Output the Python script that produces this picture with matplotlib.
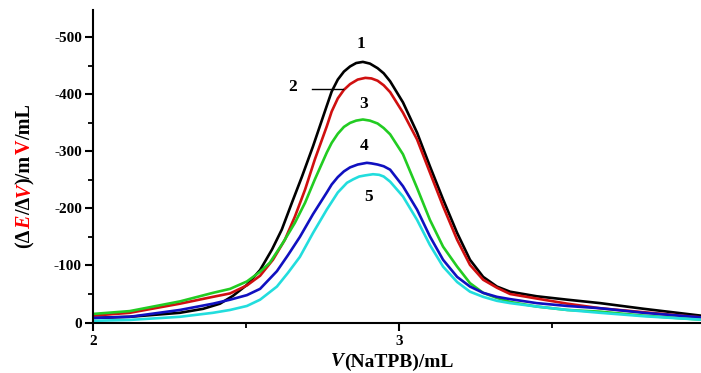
import matplotlib
matplotlib.use('Agg')
import matplotlib.pyplot as plt
from matplotlib.ticker import MultipleLocator, FuncFormatter

plt.rcParams['font.family'] = ['Liberation Serif', 'DejaVu Serif']
plt.rcParams['font.weight'] = 'bold'

# curves (volume in mL, value shown as -dE/dV)
x1 = [2.00, 2.12, 2.284, 2.36, 2.415, 2.458, 2.503, 2.546, 2.585, 2.617, 2.650, 2.683, 2.719, 2.764, 2.78,
      2.80, 2.82, 2.84, 2.86, 2.882, 2.905, 2.93, 2.95, 2.971, 3.013, 3.059, 3.101, 3.144, 3.19, 3.232,
      3.275, 3.32, 3.363, 3.45, 3.55, 3.657, 3.80, 3.987]
y1 = [8, 10, 17, 24, 33, 47, 66, 92, 128, 163, 210, 256, 309, 380, 405,
      426, 440, 449, 455, 457, 454, 446, 437, 423, 386, 333, 274, 216, 157, 110,
      80, 63, 54, 46, 40, 34, 24, 12]

x2 = [2.00, 2.12, 2.284, 2.392, 2.448, 2.503, 2.546, 2.588, 2.627, 2.66, 2.693, 2.725, 2.764, 2.78, 2.80,
      2.82, 2.84, 2.865, 2.89, 2.91, 2.93, 2.95, 2.971, 3.013, 3.059, 3.101, 3.144, 3.19, 3.232, 3.275,
      3.32, 3.363, 3.45, 3.55, 3.657, 3.80, 3.987]
y2 = [12, 17, 33, 45, 51, 65, 82, 110, 145, 186, 233, 286, 344, 370, 393,
      408, 418, 426, 429, 428, 424, 416, 404, 368, 321, 263, 204, 145, 101, 75,
      61, 50, 42, 33, 25, 18, 9]

x3 = [2.00, 2.12, 2.284, 2.392, 2.448, 2.503, 2.546, 2.578, 2.621, 2.66, 2.693, 2.725, 2.764, 2.78, 2.80,
      2.82, 2.84, 2.86, 2.882, 2.905, 2.93, 2.95, 2.971, 3.013, 3.059, 3.101, 3.144, 3.19, 3.232, 3.275,
      3.32, 3.363, 3.45, 3.55, 3.657, 3.80, 3.987]
y3 = [15, 20, 37, 52, 59, 72, 89, 105, 140, 175, 210, 251, 298, 315, 331,
      343, 350, 354, 356, 354, 349, 341, 330, 295, 236, 180, 133, 98, 69, 52,
      43, 36, 28, 22, 19, 12, 5]

x4 = [2.00, 2.12, 2.284, 2.392, 2.448, 2.503, 2.546, 2.601, 2.637, 2.676, 2.719, 2.764, 2.78, 2.80, 2.82,
      2.84, 2.865, 2.895, 2.91, 2.93, 2.95, 2.971, 3.013, 3.059, 3.101, 3.144, 3.19, 3.232, 3.275, 3.32,
      3.363, 3.45, 3.55, 3.657, 3.80, 3.987]
y4 = [8, 10, 22, 33, 40, 48, 59, 90, 118, 150, 190, 228, 242, 255, 265,
      272, 277, 280, 279, 277, 274, 268, 239, 198, 151, 110, 80, 63, 52, 45,
      41, 34, 29, 25, 17, 9]

x5 = [2.00, 2.12, 2.284, 2.392, 2.448, 2.503, 2.546, 2.601, 2.637, 2.676, 2.719, 2.764, 2.80, 2.83, 2.85,
      2.87, 2.89, 2.915, 2.935, 2.95, 2.971, 3.013, 3.059, 3.101, 3.144, 3.19, 3.232, 3.275, 3.32, 3.363,
      3.45, 3.55, 3.657, 3.80, 3.987]
y5 = [3, 4.5, 10, 17, 22, 29, 40, 63, 87, 115, 157, 198, 228, 245, 251,
      256, 258, 260, 259, 256, 247, 221, 180, 136, 98, 71, 54, 45, 38, 34,
      28, 22, 17, 11, 5]

curves = [(x1, y1), (x2, y2), (x3, y3), (x4, y4), (x5, y5)]
colors = ['#000000', '#d01010', '#22cc22', '#1010c0', '#22dddd']
labels = ['1', '2', '3', '4', '5']
label_pos = [(2.876, 489), (2.654, 413), (2.886, 384), (2.886, 309), (2.899, 220)]

W, H = 701, 373
fig = plt.figure(figsize=(W / 100, H / 100), dpi=100)
ax = fig.add_axes([93 / W, (H - 322.5) / H, (W - 93) / W, (322.5 - 10) / H])

for (xs, ys), c in zip(curves, colors):
    ax.plot(xs, ys, color=c, lw=1.9, solid_capstyle='round', solid_joinstyle='round')

for lab, (lx, ly) in zip(labels, label_pos):
    ax.text(lx, ly, lab, fontsize=12.5, ha='center', va='center', fontweight='bold')
# pointer line for label 2
ax.plot([2.716, 2.817], [410, 410], color='black', lw=1.0)

ax.set_xlim(2, 2 + 608 / 306)
ax.set_ylim(0, 548)
ax.spines['top'].set_visible(False)
ax.spines['right'].set_visible(False)
ax.spines['left'].set_linewidth(1.5)
ax.spines['bottom'].set_linewidth(1.5)

ax.xaxis.set_major_locator(MultipleLocator(1))
ax.xaxis.set_minor_locator(MultipleLocator(0.5))
ax.yaxis.set_major_locator(MultipleLocator(100))
ax.yaxis.set_minor_locator(MultipleLocator(50))
ax.yaxis.set_major_formatter(FuncFormatter(lambda v, p: '0' if v == 0 else '-%d' % v))
ax.xaxis.set_major_formatter(FuncFormatter(lambda v, p: '%d' % v))
ax.tick_params(axis='both', which='major', direction='out', length=6, width=1.5, labelsize=11, pad=2)
ax.tick_params(axis='both', which='minor', direction='out', length=3.5, width=1.3)
ax.tick_params(axis='x', which='major', pad=3)
for t in ax.get_xticklabels() + ax.get_yticklabels():
    t.set_fontweight('bold')

renderer = fig.canvas.get_renderer()

# y label: (ΔE/ΔV)/mV/mL with red parts
pieces = [('(Δ', 'black', 'normal'), ('E', 'red', 'italic'), ('/Δ', 'black', 'normal'),
          ('V', 'red', 'italic'), (')/m', 'black', 'normal'), ('V', 'red', 'normal'),
          ('/mL', 'black', 'normal')]
texts = []
total = 0
for s, c, st in pieces:
    t = fig.text(0, 0, s, rotation=90, ha='center', va='bottom', color=c, fontstyle=st,
                 fontsize=14.5, fontweight='bold')
    h = t.get_window_extent(renderer).height
    texts.append((t, h))
    total += h
yc = H - 176
y = yc - total / 2
for t, h in texts:
    t.set_position((25 / W, y / H))
    y += h

# x label: V(NaTPB)/mL
xp = [('V', 'italic'), ('(NaTPB)/mL', 'normal')]
xt = []
total = 0
for s, st in xp:
    t = fig.text(0, 0, s, ha='left', va='center', fontstyle=st, fontsize=14, fontweight='bold')
    w = t.get_window_extent(renderer).width
    xt.append((t, w))
    total += w
x = 392 - total / 2
for t, w in xt:
    t.set_position((x / W, (H - 362) / H))
    x += w

fig.savefig('out.png', dpi=100)
